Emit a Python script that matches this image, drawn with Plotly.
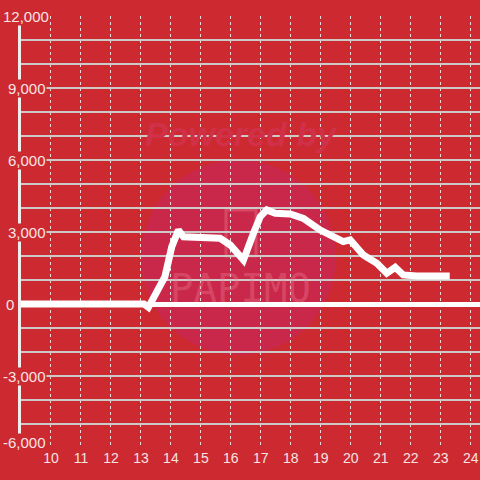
import plotly.graph_objects as go

# ---- data ----
hours = [9.0, 13.1, 13.25, 13.8, 14.03, 14.25, 14.42, 15.37, 15.64, 15.98, 16.42,
         16.75, 16.98, 17.2, 17.48, 17.98, 18.42, 18.98, 19.42, 19.75, 19.98,
         20.42, 20.87, 21.2, 21.48, 21.75, 22.2, 23.3]
values = [0, 0, -140, 1140, 2390, 3080, 2800, 2800, 2740, 2460, 1830,
          2940, 3640, 3920, 3780, 3750, 3570, 3080, 2800, 2600, 2670,
          2040, 1700, 1280, 1530, 1210, 1170, 1170]
x_ticks = list(range(10, 25))
y_label_values = [12000, 9000, 6000, 3000, 0, -3000, -6000]
y_label_texts = ["12,000", "9,000", "6,000", "3,000", "0", "-3,000", "-6,000"]

BG = "#cc2a30"
LABEL = "#f6e4e4"
W, H = 480, 480
ML, MR, MT, MB = 21, 0, 16, 32
PW = W - ML - MR
PH = H - MT - MB


def px2paper_x(px):
    return (px - ML) / PW


def py2paper_y(py):
    return (H - MB - py) / PH


fig = go.Figure()
fig.add_trace(go.Scatter(
    x=hours, y=values, mode="lines",
    line=dict(color="white", width=7), hoverinfo="skip", showlegend=False,
))

shapes = [
    # watermark circle
    dict(type="circle", xref="paper", yref="paper", layer="below",
         x0=px2paper_x(141), x1=px2paper_x(336),
         y0=py2paper_y(355), y1=py2paper_y(160),
         fillcolor="#c9284a", line=dict(width=0)),
    # phone icon
    dict(type="rect", xref="paper", yref="paper", layer="below",
         x0=px2paper_x(226), x1=px2paper_x(256),
         y0=py2paper_y(256), y1=py2paper_y(210),
         fillcolor="rgba(0,0,0,0)", line=dict(color="rgba(235,120,140,0.4)", width=3)),
]

annotations = [
    dict(text="<b><i>Powered by</i></b>", xref="paper", yref="paper",
         x=px2paper_x(241), y=py2paper_y(134), xanchor="center", yanchor="middle",
         showarrow=False,
         font=dict(family="Liberation Sans, Arial", size=34, color="#d03048")),
    dict(text="PAPIMO", xref="paper", yref="paper",
         x=px2paper_x(240), y=py2paper_y(288), xanchor="center", yanchor="middle",
         showarrow=False,
         font=dict(family="DejaVu Sans Mono, monospace", size=39, color="rgba(240,130,150,0.35)")),
]

for v, t in zip(y_label_values, y_label_texts):
    if v == 12000:
        anchor, px = "left", 2
    elif v == 0:
        anchor, px = "left", 5
    else:
        anchor, px = "right", 47
    yshift = 6 if v == -6000 else 0
    annotations.append(dict(
        text=t, xref="paper", yref="y", x=px2paper_x(px), y=v,
        xanchor=anchor, yanchor="middle", showarrow=False, yshift=yshift,
        bgcolor=BG, borderpad=0,
        font=dict(family="Liberation Sans, Arial", size=15, color=LABEL),
    ))

fig.update_layout(
    width=W, height=H,
    margin=dict(l=ML, r=MR, t=MT, b=MB),
    paper_bgcolor=BG, plot_bgcolor=BG,
    showlegend=False,
    shapes=shapes, annotations=annotations,
    xaxis=dict(
        range=[9.0, 24.31], tickvals=x_ticks, ticktext=[str(t) for t in x_ticks],
        showgrid=True, gridcolor="#e6dede", gridwidth=1, griddash="3px,3px",
        zeroline=False, showline=False, ticks="",
        tickfont=dict(family="Liberation Sans, Arial", size=14, color=LABEL),
        fixedrange=True,
    ),
    yaxis=dict(
        range=[-6000, 12000], dtick=1000, showticklabels=False,
        showgrid=True, gridcolor="#cfcaca", gridwidth=1.5,
        zeroline=True, zerolinecolor="white", zerolinewidth=5,
        showline=True, linecolor="#f2eeee", linewidth=3, ticks="",
        fixedrange=True,
    ),
)

fig.write_html(
    "out.html",
    config={"displayModeBar": False},
    post_script="document.body.style.margin='0';document.body.style.overflow='hidden';",
)
